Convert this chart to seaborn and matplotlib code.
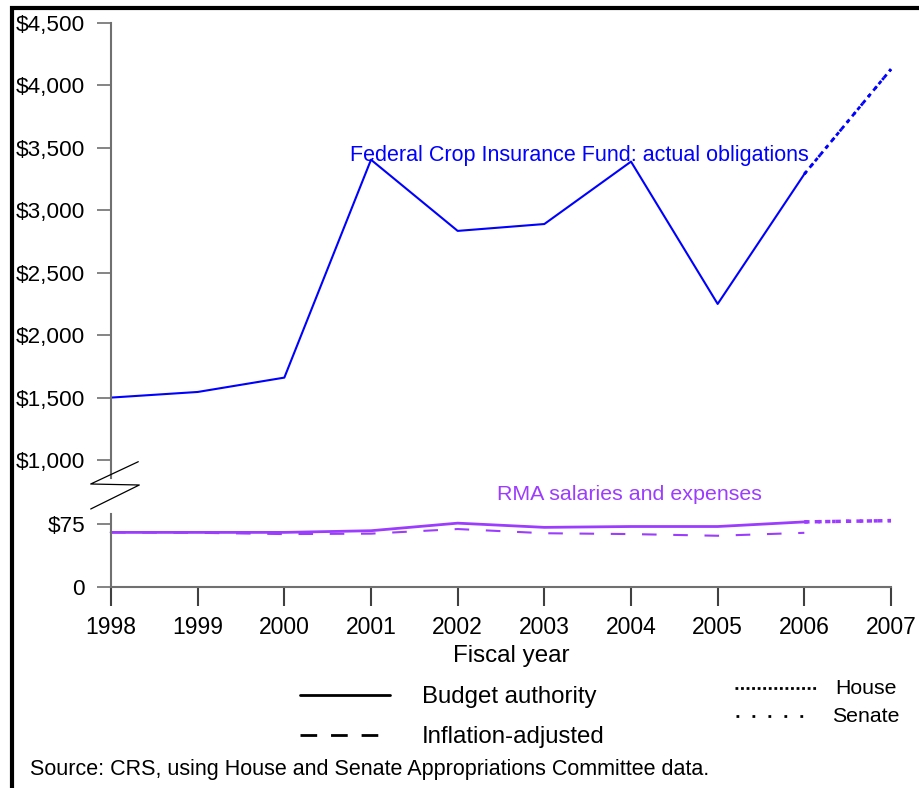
import numpy as np
import pandas as pd
import seaborn as sb
from matplotlib import pyplot as plt
from matplotlib.lines import Line2D

# data (millions of dollars)
years = [1998, 1999, 2000, 2001, 2002, 2003, 2004, 2005, 2006]
fcif_obligations = [1500, 1545, 1660, 3405, 2835, 2890, 3390, 2250, 3290]
proj_years = [2006, 2007]
fcif_house = [3290, 4130]
fcif_senate = [3290, 4130]
rma_budget = [65, 65, 65, 67, 76, 71, 72, 72, 77.5]
rma_inflation = [65, 64.5, 63, 63.5, 69, 64, 63, 61, 64.5]
rma_house = [77.5, 79]
rma_senate = [77.5, 79]
xtick_years = [1998, 1999, 2000, 2001, 2002, 2003, 2004, 2005, 2006, 2007]
upper_ticks = [1000, 1500, 2000, 2500, 3000, 3500, 4000, 4500]
lower_ticks = [0, 75]

blue = '#0000ff'
purple = '#9b3cff'
spine_col = '#707070'

sb.set_style('white')
plt.rcParams['font.family'] = ['Liberation Sans', 'DejaVu Sans']
plt.rcParams['text.color'] = 'black'
plt.rcParams['xtick.labelcolor'] = 'black'
plt.rcParams['ytick.labelcolor'] = 'black'

W, H = 920, 788
fig = plt.figure(figsize=(W / 100, H / 100), dpi=100)


def fx(x):
    return x / W


def fy(y):
    return 1 - y / H


# upper panel: crop insurance fund
ax_up = fig.add_axes([fx(111), fy(478), fx(891) - fx(111), fy(23) - fy(478)])
# lower panel: RMA salaries and expenses
ax_lo = fig.add_axes([fx(111), fy(587), fx(891) - fx(111), fy(514) - fy(587)])

df_up = pd.DataFrame({'year': years, 'value': fcif_obligations})
sb.lineplot(data=df_up, x='year', y='value', ax=ax_up, color=blue, lw=1.5, clip_on=False)
sb.lineplot(x=proj_years, y=fcif_senate, ax=ax_up, color=blue, lw=2, linestyle=(0, (1, 3)), clip_on=False)
sb.lineplot(x=proj_years, y=fcif_house, ax=ax_up, color=blue, lw=2, linestyle=(0, (1.5, 1.5)), clip_on=False)

df_lo = pd.DataFrame({'year': years, 'budget': rma_budget, 'inflation': rma_inflation})
sb.lineplot(data=df_lo, x='year', y='inflation', ax=ax_lo, color=purple, lw=1.5,
            linestyle=(0, (7, 8)), clip_on=False)
sb.lineplot(data=df_lo, x='year', y='budget', ax=ax_lo, color=purple, lw=2, clip_on=False)
sb.lineplot(x=proj_years, y=rma_senate, ax=ax_lo, color=purple, lw=2.5, linestyle=(0, (1, 3)), clip_on=False)
sb.lineplot(x=proj_years, y=rma_house, ax=ax_lo, color=purple, lw=2.5, linestyle=(0, (1.5, 1.5)), clip_on=False)

for ax in (ax_up, ax_lo):
    ax.set_xlim(1998, 2007)
    ax.set_xlabel('')
    ax.set_ylabel('')
    ax.spines['top'].set_visible(False)
    ax.spines['right'].set_visible(False)
    ax.spines['left'].set_color(spine_col)
    ax.spines['left'].set_linewidth(1.5)
    ax.tick_params(axis='y', length=10, width=1.2, color=spine_col, pad=8.6, labelsize=16.2, left=True)

ax_up.spines['bottom'].set_visible(False)
ax_up.set_ylim(856, 4500)
ax_up.set_yticks(upper_ticks)
ax_up.set_yticklabels(['${:,}'.format(v) for v in upper_ticks])
ax_up.set_xticks([])

ax_lo.set_ylim(0, 86.9)
ax_lo.set_yticks(lower_ticks)
ax_lo.set_yticklabels(['0', '$75'])
ax_lo.spines['bottom'].set_color(spine_col)
ax_lo.spines['bottom'].set_linewidth(1.5)
ax_lo.set_xticks(xtick_years)
ax_lo.set_xticklabels([str(y) for y in xtick_years])
ax_lo.tick_params(axis='x', length=14, width=1.5, color='#404040', pad=7, labelsize=16.5, bottom=True)

# series labels
fig.text(fx(350), fy(156), 'Federal Crop Insurance Fund: actual obligations',
         color=blue, fontsize=15.5, va='center', ha='left')
fig.text(fx(497), fy(495), 'RMA salaries and expenses', color=purple, fontsize=15.4, va='center', ha='left')

fig.text(fx(511), fy(656), 'Fiscal year', fontsize=17.4, ha='center', va='center')

# axis break mark
brk = [(138.3, 461.7), (90.7, 484), (139.3, 485), (90.7, 509)]
fig.add_artist(Line2D([fx(p[0]) for p in brk], [fy(p[1]) for p in brk], color='black', lw=0.9,
                      transform=fig.transFigure))


# legend
def key(x0, x1, y, style, lw):
    fig.add_artist(Line2D([fx(x0), fx(x1)], [fy(y), fy(y)], color='black', lw=lw, linestyle=style,
                          transform=fig.transFigure))


key(300, 390, 695, '-', 2)
fig.text(fx(422), fy(697), 'Budget authority', fontsize=17.3, va='center')
key(300, 390, 735, (0, (6, 5)), 2)
fig.text(fx(422), fy(737), 'Inflation-adjusted', fontsize=17.3, va='center')
key(735, 818, 688, (0, (1, 1)), 2)
fig.text(fx(835), fy(688), 'House', fontsize=15.3, va='center')
key(736, 805, 716, (0, (1, 4.75)), 2)
fig.text(fx(832), fy(716), 'Senate', fontsize=15.3, va='center')

fig.text(fx(30), fy(770), 'Source: CRS, using House and Senate Appropriations Committee data.',
         fontsize=15.5, va='center')

# frame
fig.add_artist(Line2D([fx(11.5), fx(11.5), fx(920)], [fy(788), fy(8), fy(8)], color='black', lw=3,
                      transform=fig.transFigure, solid_joinstyle='miter'))

plt.savefig('out.png', dpi=100)
